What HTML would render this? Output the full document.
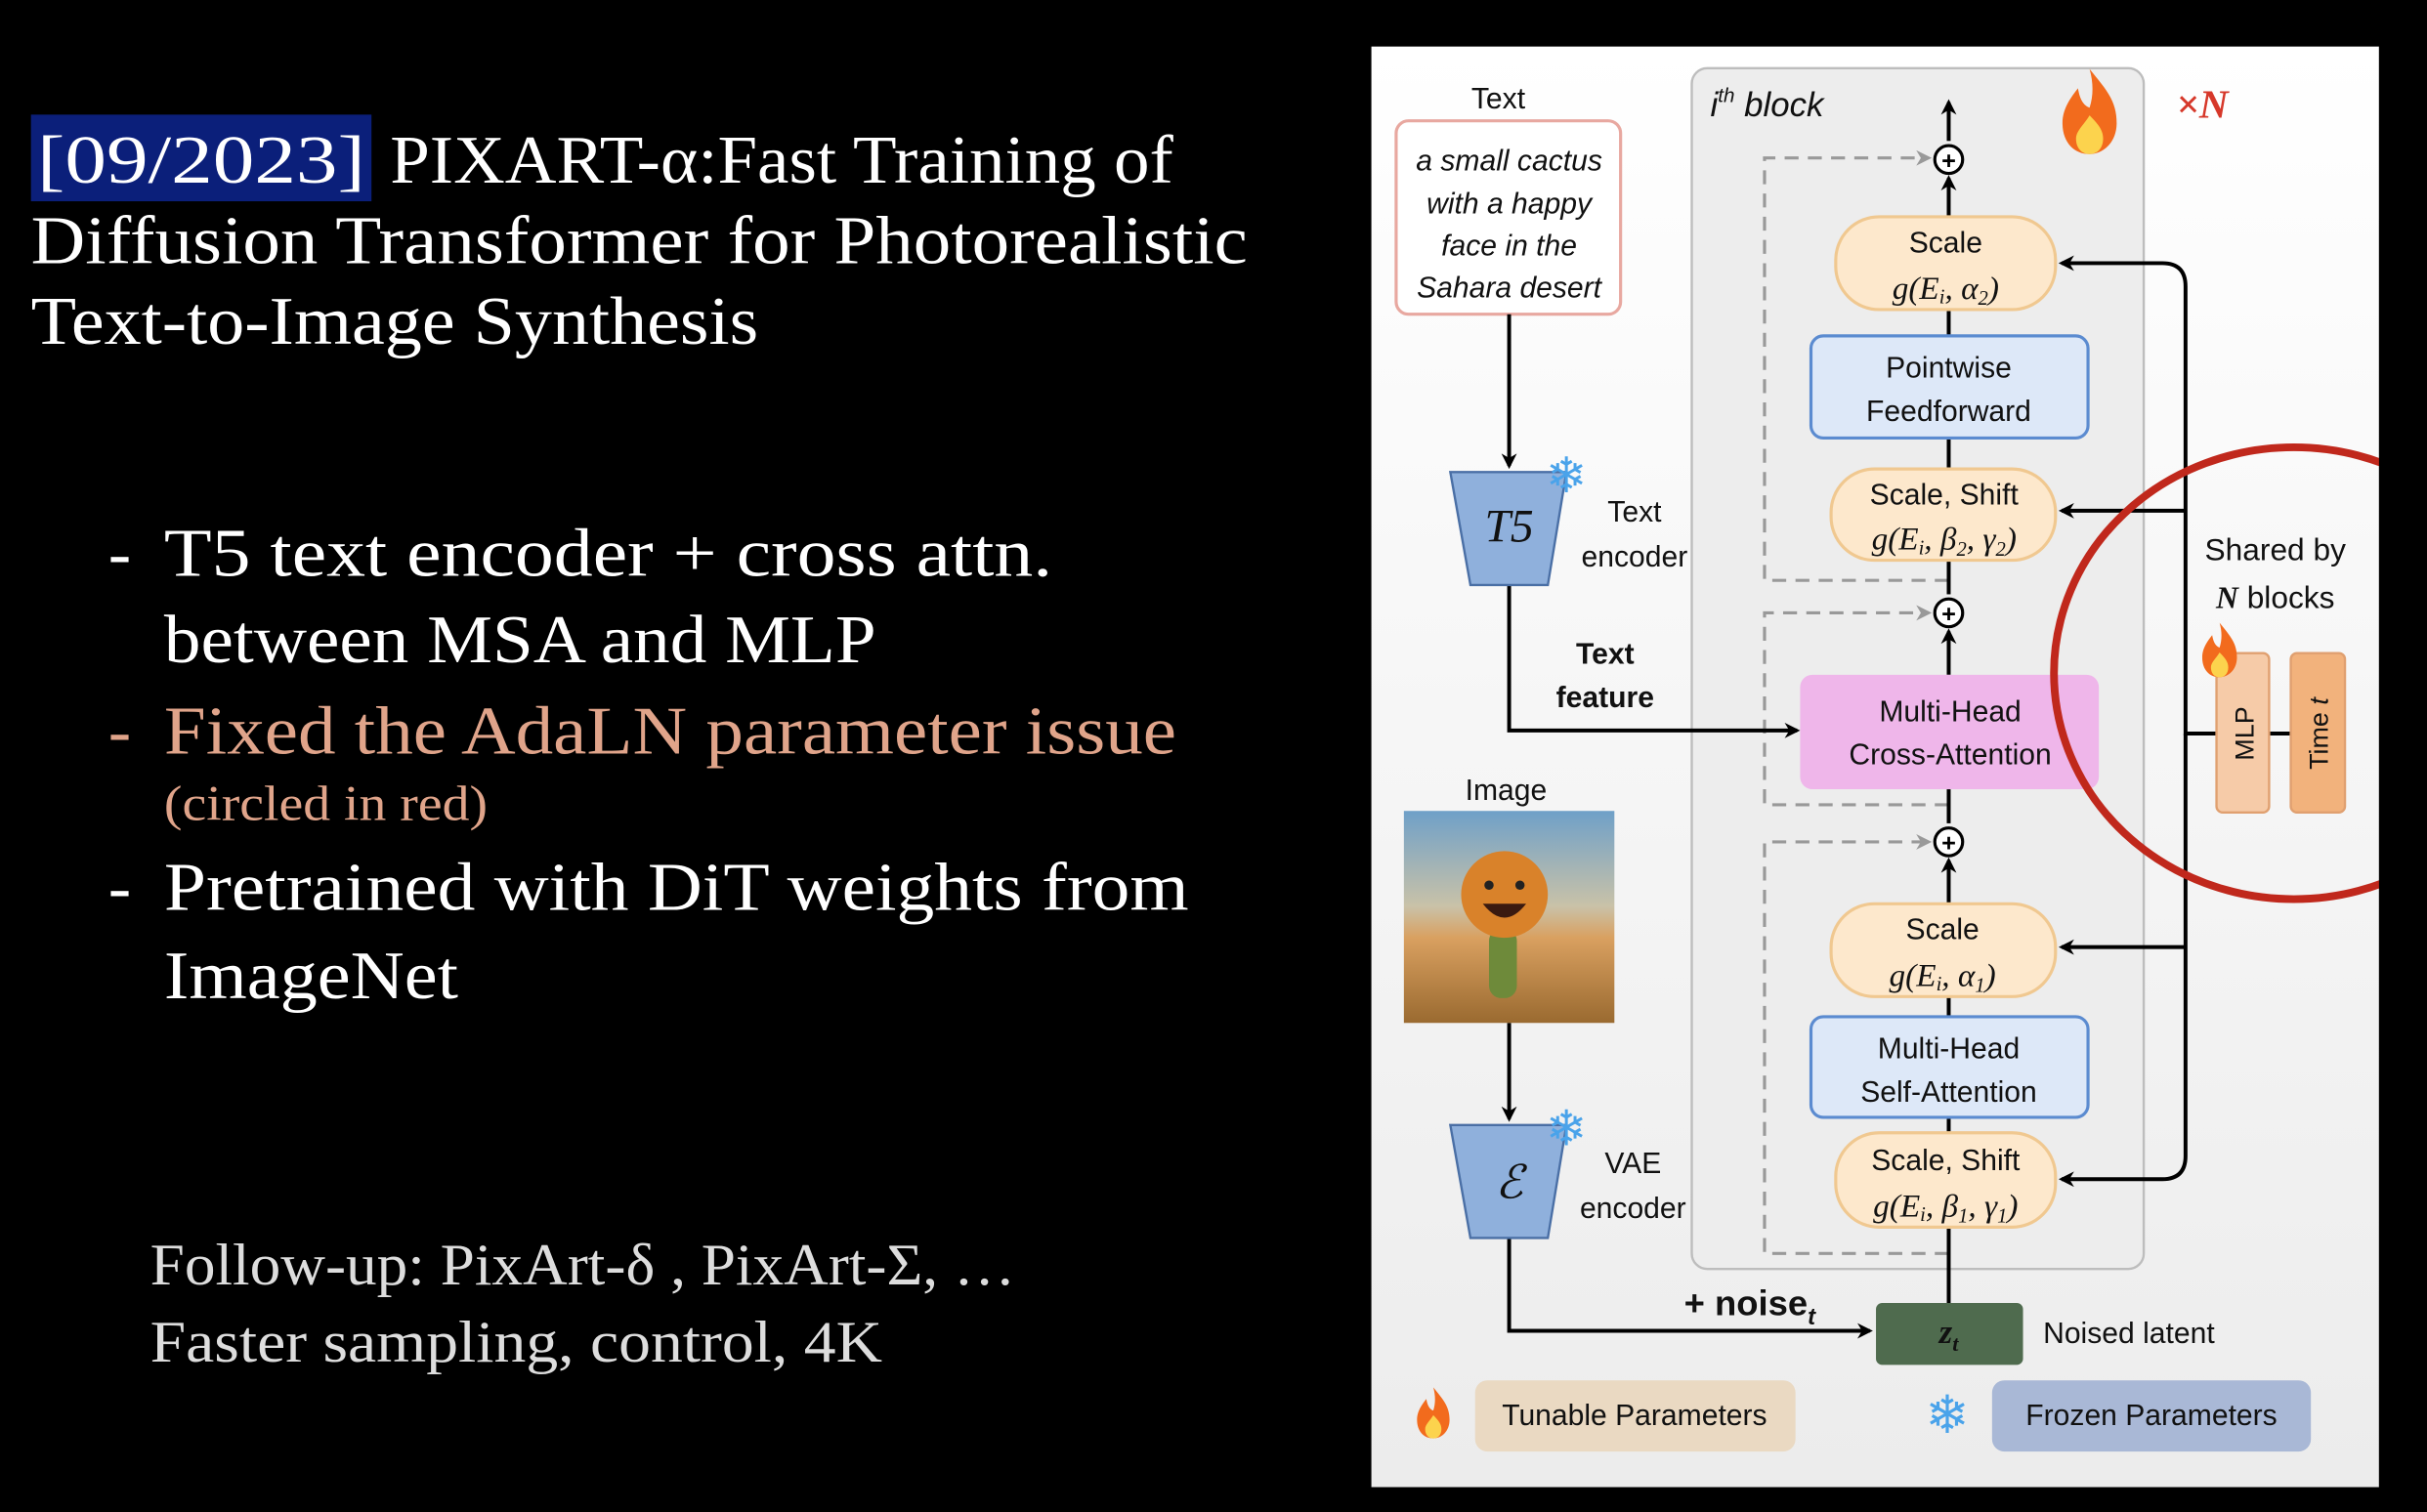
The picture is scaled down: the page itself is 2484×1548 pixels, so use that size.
<!DOCTYPE html>
<html><head><meta charset="utf-8"><style>
html,body{margin:0;padding:0;background:#000;width:2484px;height:1548px;overflow:hidden}
svg{display:block}
.s{font-family:"Liberation Serif",serif}
.a{font-family:"Liberation Sans",sans-serif}
</style></head><body>
<svg width="2484" height="1548" viewBox="0 0 1568 977" xmlns="http://www.w3.org/2000/svg">
<defs>
<marker id="ar" markerWidth="10" markerHeight="10" refX="8" refY="5" orient="auto" markerUnits="userSpaceOnUse"><path d="M0,0 L10,5 L0,10 L3,5 Z" fill="#000"/></marker>
<marker id="ag" markerWidth="10" markerHeight="10" refX="8" refY="5" orient="auto" markerUnits="userSpaceOnUse"><path d="M0,0 L10,5 L0,10 L3,5 Z" fill="#999"/></marker>
<linearGradient id="bg" x1="0" y1="0" x2="0" y2="1"><stop offset="0" stop-color="#fff"/><stop offset="1" stop-color="#ececec"/></linearGradient>
<linearGradient id="img" x1="0" y1="0" x2="0" y2="1"><stop offset="0" stop-color="#6fa0c8"/><stop offset="0.45" stop-color="#c9c2a8"/><stop offset="0.6" stop-color="#d9a060"/><stop offset="1" stop-color="#9a6a30"/></linearGradient>
<g id="fire"><path d="M0,-22 C8,-12 14,-6 14,6 C14,16 7,22 0,22 C-8,22 -14,16 -14,6 C-14,-2 -9,-8 -6,-12 C-5,-6 -3,-3 0,-2 C2,-8 2,-15 0,-22Z" fill="#f26b1d"/><path d="M0,2 C5,7 7,10 7,14 C7,19 4,22 0,22 C-4,22 -7,19 -7,14 C-7,10 -3,7 0,2Z" fill="#fcd34d"/></g>
</defs>

<!-- left text -->
<rect x="20" y="74" width="220" height="56" fill="#0b1f7a"/>
<g class="s" fill="#fff" font-size="44">
<text x="24" y="118" textLength="212" lengthAdjust="spacingAndGlyphs">[09/2023]</text>
<text x="252" y="118" textLength="506" lengthAdjust="spacingAndGlyphs">PIXART-α:Fast Training of</text>
<text x="20" y="170" textLength="786" lengthAdjust="spacingAndGlyphs">Diffusion Transformer for Photorealistic</text>
<text x="20" y="222" textLength="470" lengthAdjust="spacingAndGlyphs">Text-to-Image Synthesis</text>
<text x="70" y="372">-</text>
<text x="106" y="372" textLength="574" lengthAdjust="spacingAndGlyphs">T5 text encoder + cross attn.</text>
<text x="106" y="428" textLength="460" lengthAdjust="spacingAndGlyphs">between MSA and MLP</text>
<text x="70" y="487" fill="#e0a48a">-</text>
<text x="106" y="487" fill="#e0a48a" textLength="654" lengthAdjust="spacingAndGlyphs">Fixed the AdaLN parameter issue</text>
<text x="106" y="530" fill="#e0a48a" font-size="32" textLength="209" lengthAdjust="spacingAndGlyphs">(circled in red)</text>
<text x="70" y="588">-</text>
<text x="106" y="588" textLength="662" lengthAdjust="spacingAndGlyphs">Pretrained with DiT weights from</text>
<text x="106" y="645" textLength="190" lengthAdjust="spacingAndGlyphs">ImageNet</text>
<text x="97" y="830" fill="#ddd" font-size="38" textLength="559" lengthAdjust="spacingAndGlyphs">Follow-up: PixArt-δ , PixArt-Σ, …</text>
<text x="97" y="880" fill="#ddd" font-size="38" textLength="473" lengthAdjust="spacingAndGlyphs">Faster sampling, control, 4K</text>
</g>

<!-- diagram panel -->
<rect x="886" y="30" width="651" height="931" fill="url(#bg)"/>
<rect x="1093" y="44" width="292" height="776" rx="10" fill="#ededed" stroke="#bdbdbd" stroke-width="1.5"/>

<g class="a" fill="#111">
<text x="1105" y="75" font-size="22" font-style="italic">i<tspan font-size="13" dy="-9">th</tspan><tspan dy="9"> block</tspan></text>
</g>
<use href="#fire" transform="translate(1350,72) scale(1.25)"/>
<text x="1406" y="76" font-size="26" font-style="italic" font-weight="bold" fill="#d6382a" class="s">×N</text>

<!-- dashed residuals -->
<g stroke="#999" stroke-width="2" stroke-dasharray="9,6" fill="none">
<path d="M1259,375 H1140 V102 H1246" marker-end="url(#ag)"/>
<path d="M1259,520 H1140 V396 H1246" marker-end="url(#ag)"/>
<path d="M1259,810 H1140 V544 H1246" marker-end="url(#ag)"/>
</g>

<!-- main column -->
<g stroke="#000" stroke-width="2.5" fill="none">
<line x1="1259" y1="842" x2="1259" y2="793"/>
<line x1="1259" y1="732" x2="1259" y2="722"/>
<line x1="1259" y1="657" x2="1259" y2="644"/>
<line x1="1259" y1="584" x2="1259" y2="556" marker-end="url(#ar)"/>
<line x1="1259" y1="436" x2="1259" y2="408" marker-end="url(#ar)"/>
<line x1="1259" y1="384" x2="1259" y2="362"/>
<line x1="1259" y1="303" x2="1259" y2="283"/>
<line x1="1259" y1="217" x2="1259" y2="200"/>
<line x1="1259" y1="140" x2="1259" y2="115" marker-end="url(#ar)"/>
<line x1="1259" y1="91" x2="1259" y2="66" marker-end="url(#ar)"/>
<line x1="1259" y1="532" x2="1259" y2="510"/>
</g>
<g fill="#fff" stroke="#000" stroke-width="2">
<circle cx="1259" cy="103" r="9"/><circle cx="1259" cy="396" r="9"/><circle cx="1259" cy="544" r="9"/>
</g>
<g class="a" font-size="16" font-weight="bold" text-anchor="middle"><text x="1259" y="109">+</text><text x="1259" y="402">+</text><text x="1259" y="550">+</text></g>

<g stroke-width="2">
<rect x="1186" y="140" width="142" height="60" rx="28" fill="#fde8cc" stroke="#f0c890"/>
<rect x="1170" y="217" width="179" height="66" rx="8" fill="#dde8f8" stroke="#5b8bd0"/>
<rect x="1183" y="303" width="145" height="59" rx="28" fill="#fde8cc" stroke="#f0c890"/>
<rect x="1163" y="436" width="193" height="74" rx="8" fill="#efb6ea"/>
<rect x="1183" y="584" width="145" height="60" rx="28" fill="#fde8cc" stroke="#f0c890"/>
<rect x="1170" y="657" width="179" height="65" rx="8" fill="#dde8f8" stroke="#5b8bd0"/>
<rect x="1186" y="732" width="142" height="61" rx="28" fill="#fde8cc" stroke="#f0c890"/>
<rect x="1212" y="842" width="95" height="40" rx="4" fill="#4f6b4e"/>
</g>
<g class="a" font-size="19" fill="#111" text-anchor="middle">
<text x="1257" y="163">Scale</text>
<text x="1259" y="244">Pointwise</text><text x="1259" y="272">Feedforward</text>
<text x="1256" y="326">Scale, Shift</text>
<text x="1260" y="466">Multi-Head</text><text x="1260" y="494">Cross-Attention</text>
<text x="1255" y="607">Scale</text>
<text x="1259" y="684">Multi-Head</text><text x="1259" y="712">Self-Attention</text>
<text x="1257" y="756">Scale, Shift</text>
</g>
<g class="s" font-size="21" font-style="italic" fill="#111" text-anchor="middle">
<text x="1257" y="193">g(E<tspan font-size="13" dy="3">i</tspan><tspan dy="-3">, α</tspan><tspan font-size="13" dy="4">2</tspan><tspan dy="-4">)</tspan></text>
<text x="1256" y="355">g(E<tspan font-size="13" dy="3">i</tspan><tspan dy="-3">, β</tspan><tspan font-size="13" dy="4">2</tspan><tspan dy="-4">, γ</tspan><tspan font-size="13" dy="4">2</tspan><tspan dy="-4">)</tspan></text>
<text x="1255" y="637">g(E<tspan font-size="13" dy="3">i</tspan><tspan dy="-3">, α</tspan><tspan font-size="13" dy="4">1</tspan><tspan dy="-4">)</tspan></text>
<text x="1257" y="786">g(E<tspan font-size="13" dy="3">i</tspan><tspan dy="-3">, β</tspan><tspan font-size="13" dy="4">1</tspan><tspan dy="-4">, γ</tspan><tspan font-size="13" dy="4">1</tspan><tspan dy="-4">)</tspan></text>
<text x="1259" y="868" font-weight="bold" fill="#111" font-size="22">z<tspan font-size="14" dy="5">t</tspan></text>
</g>
<text x="1320" y="868" class="a" font-size="19" fill="#111">Noised latent</text>

<!-- right shared path -->
<g stroke="#000" stroke-width="2.5" fill="none">
<path d="M1432,474 H1412 V185 Q1412,170 1397,170 H1332" marker-end="url(#ar)"/>
<line x1="1412" y1="330" x2="1332" y2="330" marker-end="url(#ar)"/>
<line x1="1412" y1="612" x2="1332" y2="612" marker-end="url(#ar)"/>
<path d="M1412,474 V747 Q1412,762 1397,762 H1332" marker-end="url(#ar)"/>
<line x1="1466" y1="474" x2="1480" y2="474"/>
</g>
<rect x="1432" y="422" width="34" height="103" rx="4" fill="#f6cba8" stroke="#e0a070" stroke-width="1.5"/>
<rect x="1480" y="422" width="35" height="103" rx="4" fill="#f2b27c" stroke="#e0a070" stroke-width="1.5"/>
<g class="a" font-size="17" fill="#111">
<text transform="translate(1456,474) rotate(-90)" text-anchor="middle">MLP</text>
<text transform="translate(1504,474) rotate(-90)" text-anchor="middle">Time <tspan font-style="italic">t</tspan></text>
</g>
<use href="#fire" transform="translate(1434,420) scale(0.8)"/>
<g class="a" font-size="20" fill="#111" text-anchor="middle">
<text x="1470" y="362">Shared by</text>
<text x="1470" y="393"><tspan class="s" font-weight="bold" font-style="italic">N</tspan> blocks</text>
</g>
<ellipse cx="1482" cy="435" rx="155" ry="146" fill="none" stroke="#c0281c" stroke-width="5"/>
<rect x="1537" y="30" width="31" height="931" fill="#000"/>

<!-- left side of diagram -->
<text x="968" y="70" class="a" font-size="19" fill="#111" text-anchor="middle">Text</text>
<rect x="902" y="78" width="145" height="125" rx="8" fill="#fff" stroke="#e8a8a0" stroke-width="2"/>
<g class="a" font-size="19" font-style="italic" fill="#111" text-anchor="middle">
<text x="975" y="110">a small cactus</text><text x="975" y="138">with a happy</text><text x="975" y="165">face in the</text><text x="975" y="192">Sahara desert</text>
</g>
<g stroke="#000" stroke-width="2.5" fill="none">
<line x1="975" y1="203" x2="975" y2="301" marker-end="url(#ar)"/>
<path d="M975,378 V472 H1161" marker-end="url(#ar)"/>
<line x1="975" y1="661" x2="975" y2="723" marker-end="url(#ar)"/>
<path d="M975,800 V860 H1208" marker-end="url(#ar)"/>
</g>
<path d="M937,305 H1012 L1000,378 H950 Z" fill="#8fb0dc" stroke="#4a6fa5" stroke-width="1.5"/>
<text x="975" y="350" class="s" font-size="30" font-style="italic" fill="#111" text-anchor="middle">T5</text>
<text x="1012" y="318" font-size="32" fill="#4aa3ea" text-anchor="middle" class="a">❄</text>
<g class="a" font-size="19" fill="#111" text-anchor="middle">
<text x="1056" y="337">Text</text><text x="1056" y="366">encoder</text>
<text x="1037" y="429" font-weight="bold">Text</text><text x="1037" y="457" font-weight="bold">feature</text>
<text x="973" y="517">Image</text>
<text x="1055" y="758">VAE</text><text x="1055" y="787">encoder</text>
</g>
<rect x="907" y="524" width="136" height="137" fill="url(#img)"/>
<rect x="962" y="600" width="18" height="45" rx="8" fill="#6e8a3a"/>
<circle cx="972" cy="578" r="28" fill="#d9822a"/>
<circle cx="962" cy="572" r="3" fill="#222"/><circle cx="982" cy="572" r="3" fill="#222"/>
<path d="M958,584 Q972,602 986,584 Z" fill="#3a1a10"/>
<path d="M937,727 H1012 L1000,800 H950 Z" fill="#8fb0dc" stroke="#4a6fa5" stroke-width="1.5"/>
<text x="975" y="774" class="s" font-size="30" font-style="italic" fill="#111" text-anchor="middle">ℰ</text>
<text x="1012" y="740" font-size="32" fill="#4aa3ea" text-anchor="middle" class="a">❄</text>
<text x="1088" y="850" class="a" font-size="23" font-weight="bold" fill="#111">+ noise<tspan font-size="15" font-style="italic" dy="6">t</tspan></text>

<!-- legend -->
<use href="#fire" transform="translate(926,913) scale(0.75)"/>
<rect x="953" y="892" width="207" height="46" rx="8" fill="#ead9c2"/>
<text x="1056" y="921" class="a" font-size="19" fill="#111" text-anchor="middle">Tunable Parameters</text>
<text x="1258" y="926" font-size="34" fill="#4aa3ea" text-anchor="middle" class="a">❄</text>
<rect x="1287" y="892" width="206" height="46" rx="8" fill="#a9b8d6"/>
<text x="1390" y="921" class="a" font-size="19" fill="#111" text-anchor="middle">Frozen Parameters</text>
</svg>
</body></html>
